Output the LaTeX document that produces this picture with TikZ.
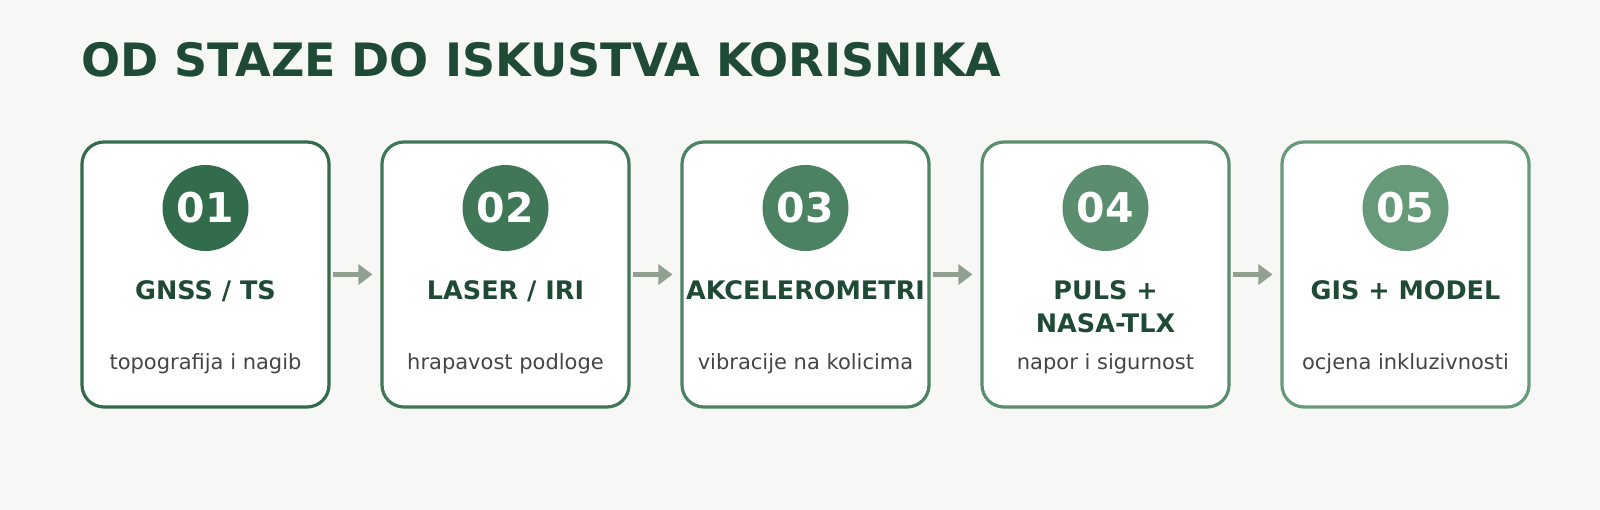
\documentclass[tikz,border=0pt]{standalone}
\usepackage{fontspec}
\setmainfont{DejaVu Sans}
\usetikzlibrary{arrows.meta}
\definecolor{bgpaper}{HTML}{F7F7F5}
\definecolor{titlegreen}{HTML}{1F4A35}
\definecolor{subgray}{HTML}{454545}
\definecolor{arrowgray}{HTML}{909F90}
\definecolor{stepA}{HTML}{336C4C}
\definecolor{stepB}{HTML}{3F7757}
\definecolor{stepC}{HTML}{4B8262}
\definecolor{stepD}{HTML}{5A8E6E}
\definecolor{stepE}{HTML}{679A79}
\tikzset{
  stagebox/.style={draw=#1, fill=white, line width=3.2pt, rounded corners=22pt,
    minimum width=247pt, minimum height=265pt, inner sep=0pt},
  numdisc/.style={circle, fill=#1, minimum size=86pt, inner sep=0pt,
    text=white, font=\bfseries\fontsize{41}{41}\selectfont},
  headtext/.style={anchor=base, align=center, inner sep=0pt, text=titlegreen,
    font=\bfseries\fontsize{25.5}{33}\selectfont},
  subtext/.style={anchor=base, inner sep=0pt, text=subgray,
    font=\fontsize{21}{24}\selectfont},
  flowarrow/.style={draw=arrowgray, line width=5pt, shorten <=2pt, shorten >=8pt,
    -{Triangle[length=14pt,width=20pt]}}
}
\begin{document}
\begin{tikzpicture}[x=1pt,y=-1pt]
  \fill[bgpaper] (0,0) rectangle (1600,510);
  \useasboundingbox (0,0) rectangle (1600,510);
  \node[anchor=base west, inner sep=0pt, text=titlegreen,
    font=\bfseries\fontsize{46}{46}\selectfont] (title) at (81,77) {OD STAZE DO ISKUSTVA KORISNIKA};

  % the five stages
  \node[stagebox=stepA] (b1) at (205.5,274.5) {};
  \node[stagebox=stepB] (b2) at (505.5,274.5) {};
  \node[stagebox=stepC] (b3) at (805.5,274.5) {};
  \node[stagebox=stepD] (b4) at (1105.5,274.5) {};
  \node[stagebox=stepE] (b5) at (1405.5,274.5) {};

  \node[numdisc=stepA] (n1) at (205.5,208) {01};
  \node[numdisc=stepB] (n2) at (505.5,208) {02};
  \node[numdisc=stepC] (n3) at (805.5,208) {03};
  \node[numdisc=stepD] (n4) at (1105.5,208) {04};
  \node[numdisc=stepE] (n5) at (1405.5,208) {05};

  \node[headtext] (h1) at (205.5,300) {GNSS / TS};
  \node[headtext] (h2) at (505.5,300) {LASER / IRI};
  \node[headtext] (h3) at (805.5,300) {AKCELEROMETRI};
  \node[headtext] (h4) at (1105.5,333) {PULS +\\NASA-TLX};
  \node[headtext] (h5) at (1405.5,300) {GIS + MODEL};

  \node[subtext] (s1) at (205.5,370) {topografija i nagib};
  \node[subtext] (s2) at (505.5,370) {hrapavost podloge};
  \node[subtext] (s3) at (805.5,370) {vibracije na kolicima};
  \node[subtext] (s4) at (1105.5,370) {napor i sigurnost};
  \node[subtext] (s5) at (1405.5,370) {ocjena inkluzivnosti};

  % arrows between stages
  \draw[flowarrow] (b1.east) -- (b2.west);
  \draw[flowarrow] (b2.east) -- (b3.west);
  \draw[flowarrow] (b3.east) -- (b4.west);
  \draw[flowarrow] (b4.east) -- (b5.west);
\end{tikzpicture}
\end{document}
